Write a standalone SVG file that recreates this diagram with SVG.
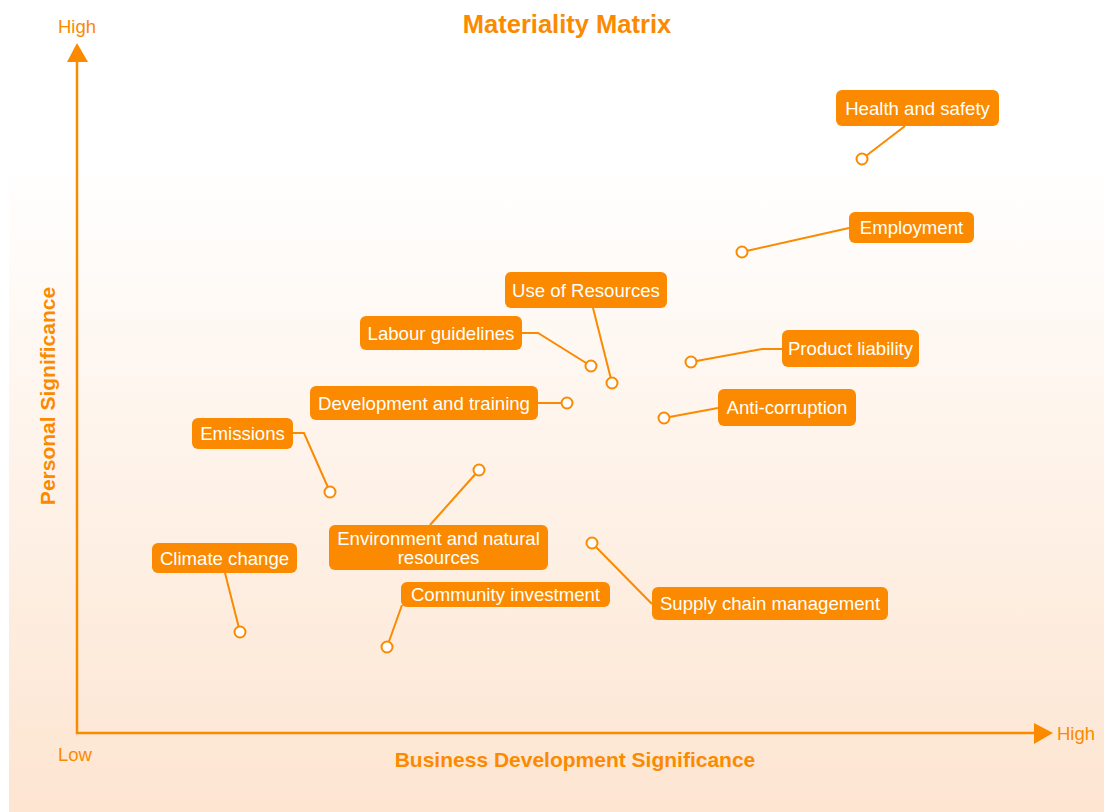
<svg xmlns="http://www.w3.org/2000/svg" width="1104" height="812" viewBox="0 0 1104 812">
<defs>
<linearGradient id="bg" x1="0" y1="0" x2="0" y2="1">
<stop offset="0" stop-color="#ffffff"/>
<stop offset="0.2" stop-color="#ffffff"/>
<stop offset="1" stop-color="#fde5d1"/>
</linearGradient>
<style>
.box{fill:#fb8a00;}
.lbl{font-family:"Liberation Sans",Arial,sans-serif;font-size:18.6px;fill:#ffffff;text-anchor:middle;}
.conn{fill:none;stroke:#fb8a00;stroke-width:2;}
.dot{fill:#ffffff;stroke:#fb8a00;stroke-width:2;}
.axis{fill:none;stroke:#fb8a00;stroke-width:2.5;}
.ax{font-family:"Liberation Sans",Arial,sans-serif;font-size:18.5px;fill:#fb8a00;}
.ttl{font-family:"Liberation Sans",Arial,sans-serif;font-weight:bold;fill:#fb8a00;text-anchor:middle;}
</style>
</defs>
<rect x="9" y="0" width="1095" height="812" fill="url(#bg)"/>
<g id="axes">
<polyline class="axis" points="77,60 77,733 1036,733"/>
<polygon points="77,43 67,62 88,62" fill="#fb8a00"/>
<polygon points="1053,733 1034,723 1034,744" fill="#fb8a00"/>
<text class="ax" x="77" y="33" text-anchor="middle">High</text>
<text class="ax" x="1057" y="740">High</text>
<text class="ax" x="58" y="761">Low</text>
<text class="ttl" x="575" y="767" font-size="21">Business Development Significance</text>
<text class="ttl" transform="translate(55,396) rotate(-90)" font-size="21">Personal Significance</text>
<text class="ttl" x="567" y="33" font-size="25.5">Materiality Matrix</text>
</g>
<g id="connectors">
<polyline class="conn" points="905,126 862,159"/>
<polyline class="conn" points="849,228 742,252"/>
<polyline class="conn" points="593,308 612,383"/>
<polyline class="conn" points="522,333 538,333 591,366"/>
<polyline class="conn" points="538,403 567,403"/>
<polyline class="conn" points="782,349 762,349 691,362"/>
<polyline class="conn" points="718,408 664,418"/>
<polyline class="conn" points="652,604 592,543"/>
<polyline class="conn" points="293,433 304,433 330,492"/>
<polyline class="conn" points="430,525 479,470"/>
<polyline class="conn" points="225,573 240,632"/>
<polyline class="conn" points="402,605 387,647"/>
</g>
<g id="points">
<circle class="dot" cx="862" cy="159" r="5.5"/>
<circle class="dot" cx="742" cy="252" r="5.5"/>
<circle class="dot" cx="612" cy="383" r="5.5"/>
<circle class="dot" cx="591" cy="366" r="5.5"/>
<circle class="dot" cx="567" cy="403" r="5.5"/>
<circle class="dot" cx="691" cy="362" r="5.5"/>
<circle class="dot" cx="664" cy="418" r="5.5"/>
<circle class="dot" cx="592" cy="543" r="5.5"/>
<circle class="dot" cx="330" cy="492" r="5.5"/>
<circle class="dot" cx="479" cy="470" r="5.5"/>
<circle class="dot" cx="240" cy="632" r="5.5"/>
<circle class="dot" cx="387" cy="647" r="5.5"/>
</g>
<g id="n-health"><rect class="box" x="836" y="90" width="163" height="36" rx="6"/><text class="lbl" x="917.5" y="114.5">Health and safety</text></g>
<g id="n-employment"><rect class="box" x="849" y="212" width="125" height="31" rx="6"/><text class="lbl" x="911.5" y="234">Employment</text></g>
<g id="n-resources"><rect class="box" x="505" y="272" width="162" height="36" rx="6"/><text class="lbl" x="586" y="296.5">Use of Resources</text></g>
<g id="n-labour"><rect class="box" x="360" y="316" width="162" height="34" rx="6"/><text class="lbl" x="441" y="339.5">Labour guidelines</text></g>
<g id="n-development"><rect class="box" x="310" y="386" width="228" height="34" rx="6"/><text class="lbl" x="424" y="409.5">Development and training</text></g>
<g id="n-product"><rect class="box" x="782" y="330" width="137" height="37" rx="6"/><text class="lbl" x="850.5" y="355">Product liability</text></g>
<g id="n-anticorruption"><rect class="box" x="718" y="389" width="138" height="37" rx="6"/><text class="lbl" x="787" y="414">Anti-corruption</text></g>
<g id="n-supply"><rect class="box" x="652" y="587" width="236" height="33" rx="6"/><text class="lbl" x="770" y="610">Supply chain management</text></g>
<g id="n-emissions"><rect class="box" x="192" y="418" width="101" height="31" rx="6"/><text class="lbl" x="242.5" y="440">Emissions</text></g>
<g id="n-environment"><rect class="box" x="329" y="525" width="219" height="45" rx="6"/><text class="lbl" x="438.5" y="544.5">Environment and natural</text><text class="lbl" x="438.5" y="563.5">resources</text></g>
<g id="n-climate"><rect class="box" x="152" y="543" width="145" height="30" rx="6"/><text class="lbl" x="224.5" y="564.5">Climate change</text></g>
<g id="n-community"><rect class="box" x="401" y="582" width="209" height="25" rx="6"/><text class="lbl" x="505.5" y="601">Community investment</text></g>
</svg>
